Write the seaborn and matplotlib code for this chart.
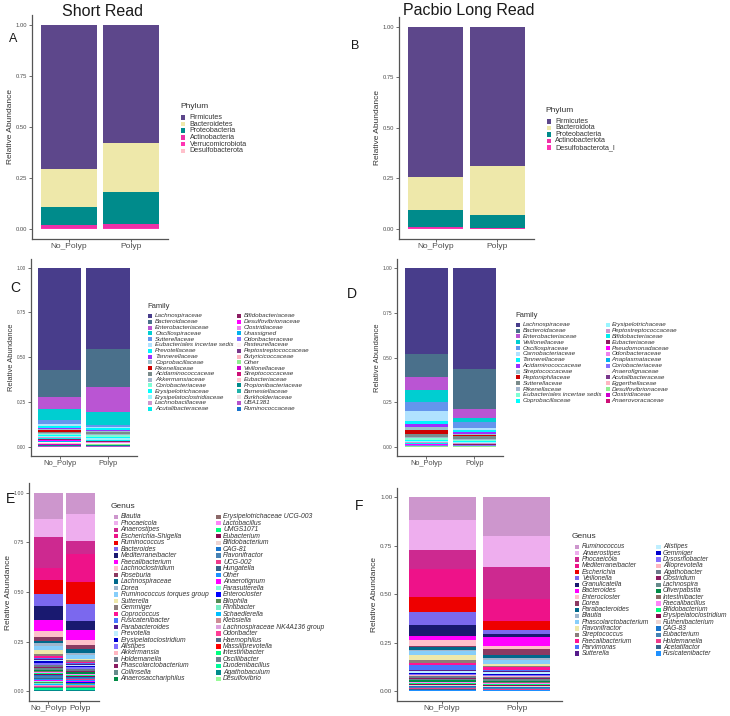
import numpy as np
import pandas as pd
import matplotlib
matplotlib.use('Agg')
import matplotlib.pyplot as plt
from matplotlib.patches import Rectangle
import seaborn as sns

groups = ['No_Polyp', 'Polyp']

# ---- Phylum (A: short read, B: PacBio) ----
phyla_sr = ['Firmicutes', 'Bacteroidetes', 'Proteobacteria', 'Actinobacteria',
            'Verrucomicrobiota', 'Desulfobacterota']
phyla_sr_colors = ['#5D478B', '#EEE8AA', '#008B8B', '#EE30A7', '#FF34B3', '#FFC0CB']
phyla_sr_nopolyp = [0.708, 0.186, 0.088, 0.014, 0.003, 0.001]
phyla_sr_polyp = [0.577, 0.240, 0.157, 0.022, 0.003, 0.001]

phyla_lr = ['Firmicutes', 'Bacteroidota', 'Proteobacteria', 'Actinobacteriota',
            'Desulfobacterota_I']
phyla_lr_colors = ['#5D478B', '#EEE8AA', '#008B8B', '#EE30A7', '#FF34B3']
phyla_lr_nopolyp = [0.745, 0.160, 0.087, 0.006, 0.002]
phyla_lr_polyp = [0.688, 0.243, 0.064, 0.004, 0.001]

# ---- Family (C, D) ----
family_palette = ['#483D8B', '#4A708B', '#BA55D3', '#00CED1', '#6495ED', '#B0E2FF',
                  '#00F5FF', '#9B30FF', '#9AC0CD', '#CD0000', '#7A8B8B', '#A2B5CD',
                  '#7FFFD4', '#00FFFF', '#98F5FF', '#CD96CD', '#00EEEE', '#8B1C62',
                  '#FF00FF', '#EE82EE', '#00B2EE', '#8470FF', '#FFF0F5', '#7A378B',
                  '#FFB6C1', '#90EE90', '#CD00CD', '#CD1076', '#FFC0CB', '#008B8B',
                  '#20B2AA', '#EEE0E5', '#B452CD', '#1874CD']

fam_sr = ['Lachnospiraceae', 'Bacteroidaceae', 'Enterobacteriaceae', 'Oscillospiraceae',
          'Sutterellaceae', 'Eubacteriales incertae sedis', 'Prevotellaceae',
          'Tannerellaceae', 'Coprobacillaceae', 'Rikenellaceae', 'Acidaminococcaceae',
          'Akkermansiaceae', 'Coriobacteriaceae', 'Erysipelotrichaceae',
          'Erysipelatoclostridiaceae', 'Lachnobacillaceae', 'Acutalibacteraceae',
          'Bifidobacteriaceae', 'Desulfovibrionaceae', 'Clostridiaceae', 'Unassigned',
          'Odoribacteraceae', 'Pasteurellaceae', 'Peptostreptococcaceae',
          'Butyricicoccaceae', 'Other', 'Veillonellaceae', 'Streptococcaceae',
          'Eubacteriaceae', 'Propionibacteriaceae', 'Barnesiellaceae',
          'Burkholderiaceae', 'UBA1381', 'Ruminococcaceae']
fam_sr_nopolyp = [0.569, 0.155, 0.063, 0.066, 0.018, 0.012, 0.010, 0.008, 0.006, 0.009,
                  0.007, 0.006, 0.005, 0.008, 0.006, 0.005, 0.006, 0.004, 0.003, 0.004,
                  0.003, 0.003, 0.002, 0.002, 0.003, 0.003, 0.003, 0.002, 0.002, 0.001,
                  0.002, 0.001, 0.002, 0.001]
fam_sr_polyp = [0.454, 0.214, 0.140, 0.071, 0.009, 0.010, 0.006, 0.007, 0.004, 0.004,
                0.012, 0.006, 0.010, 0.005, 0.008, 0.004, 0.005, 0.003, 0.002, 0.003,
                0.002, 0.002, 0.001, 0.002, 0.002, 0.002, 0.002, 0.002, 0.001, 0.001,
                0.002, 0.001, 0.002, 0.001]

fam_lr = ['Lachnospiraceae', 'Bacteroidaceae', 'Enterobacteriaceae', 'Veillonellaceae',
          'Oscillospiraceae', 'Carnobacteriaceae', 'Tannerellaceae', 'Acidaminococcaceae',
          'Streptococcaceae', 'Peptoniphilaceae', 'Sutterellaceae', 'Rikenellaceae',
          'Eubacteriales incertae sedis', 'Coprobacillaceae', 'Erysipelotrichaceae',
          'Peptostreptococcaceae', 'Bifidobacteriaceae', 'Eubacteriaceae',
          'Pseudomonadaceae', 'Odoribacteraceae', 'Anaplasmataceae', 'Coriobacteriaceae',
          'Anaerofignaceae', 'Acutalibacteraceae', 'Eggerthellaceae',
          'Desulfovibrionaceae', 'Clostridiaceae', 'Anaerovoracaceae']
fam_lr_nopolyp = [0.481, 0.125, 0.075, 0.067, 0.050, 0.056, 0.015, 0.017, 0.019, 0.024,
                  0.015, 0.006, 0.009, 0.009, 0.005, 0.004, 0.004, 0.003, 0.002, 0.002,
                  0.002, 0.002, 0.001, 0.002, 0.001, 0.002, 0.001, 0.001]
fam_lr_polyp = [0.565, 0.224, 0.047, 0.026, 0.034, 0.010, 0.009, 0.012, 0.008, 0.002,
                0.016, 0.006, 0.008, 0.007, 0.004, 0.003, 0.003, 0.002, 0.001, 0.002,
                0.001, 0.002, 0.001, 0.002, 0.001, 0.002, 0.001, 0.001]

# ---- Genus (E, F) ----
genus_palette = ['#CD96CD', '#EEAEEE', '#CD2990', '#EE1289', '#EE0000', '#7B68EE',
                 '#191970', '#FF00FF', '#FFC0CB', '#8B3A62', '#00688B', '#9FB6CD',
                 '#87CEFA', '#EEE8AA', '#8B7D7B', '#FF1493', '#4876FF', '#551A8B',
                 '#BFEFFF', '#0000CD', '#836FFF', '#FFB6C1', '#6C7B8B', '#8B1C62',
                 '#668B8B', '#008B45', '#8B6969', '#FF83FA', '#00FF7F', '#8B0A50',
                 '#EED5D2', '#1874CD', '#4682B4', '#EE3A8C', '#36648B', '#1E90FF',
                 '#FF00FF', '#7FFFD4', '#0000FF', '#548B54', '#76EEC6', '#00BFFF',
                 '#CD8C95', '#DDA0DD', '#FF3E96', '#4F6D8B', '#FF0000', '#00FF7F',
                 '#708090', '#00FA9A', '#008B8B', '#98FB98']

gen_sr = ['Blautia', 'Phocaeicola', 'Anaerostipes', 'Escherichia-Shigella', 'Ruminococcus',
          'Bacteroides', 'Mediterraneibacter', 'Faecalibacterium', 'Lachnoclostridium',
          'Roseburia', 'Lachnospiraceae', 'Dorea', 'Ruminococcus torques group',
          'Sutterella', 'Gemmiger', 'Coprococcus', 'Fusicatenibacter', 'Parabacteroides',
          'Prevotella', 'Erysipelatoclostridium', 'Alistipes', 'Akkermansia',
          'Holdemanella', 'Phascolarctobacterium', 'Collinsella', 'Anaerosacchariphilus',
          'Erysipelotrichaceae UCG-003', 'Lactobacillus', 'UMGS1071', 'Eubacterium',
          'Bifidobacterium', 'CAG-81', 'Flavonifractor', 'UCG-002', 'Hungatella', 'Other',
          'Anaerotignum', 'Parasutterella', 'Enterocloster', 'Bilophila', 'Flintibacter',
          'Schaedlerella', 'Klebsiella', 'Lachnospiraceae NK4A136 group', 'Odoribacter',
          'Haemophilus', 'Massiliprevotella', 'Intestinibacter', 'Oscillibacter',
          'Duodenibacillus', 'Agathobaculum', 'Desulfovibrio']
gen_sr_nopolyp = [0.130, 0.095, 0.152, 0.063, 0.071, 0.059, 0.073, 0.051, 0.032, 0.019,
                  0.014, 0.014, 0.020, 0.017, 0.012, 0.008, 0.006, 0.006, 0.008, 0.010,
                  0.006, 0.004, 0.010, 0.005, 0.006, 0.008, 0.005, 0.004, 0.003, 0.005,
                  0.004, 0.005, 0.006, 0.003, 0.005, 0.004, 0.003, 0.005, 0.004, 0.004,
                  0.004, 0.004, 0.003, 0.004, 0.004, 0.003, 0.003, 0.003, 0.004, 0.003,
                  0.003, 0.003]
gen_sr_polyp = [0.108, 0.134, 0.068, 0.139, 0.110, 0.085, 0.047, 0.051, 0.027, 0.020,
                0.020, 0.008, 0.020, 0.008, 0.008, 0.006, 0.005, 0.006, 0.004, 0.005,
                0.007, 0.004, 0.006, 0.005, 0.004, 0.006, 0.004, 0.004, 0.003, 0.004,
                0.003, 0.004, 0.005, 0.003, 0.004, 0.003, 0.003, 0.004, 0.003, 0.003,
                0.004, 0.003, 0.003, 0.004, 0.003, 0.003, 0.003, 0.003, 0.004, 0.003,
                0.003, 0.003]

gen_lr = ['Ruminococcus', 'Anaerostipes', 'Phocaeicola', 'Mediterraneibacter', 'Escherichia',
          'Veillonella', 'Granulicatella', 'Bacteroides', 'Enterocloster', 'Dorea',
          'Parabacteroides', 'Blautia', 'Phascolarctobacterium', 'Flavonifractor',
          'Streptococcus', 'Faecalibacterium', 'Parvimonas', 'Sutterella', 'Alistipes',
          'Gemmiger', 'Dysosmobacter', 'Alloprevotella', 'Agathobacter', 'Clostridium',
          'Lachnospira', 'Oliverpabstia', 'Intestinibacter', 'Faecalibacillus',
          'Bifidobacterium', 'Erysipelatoclostridium', 'Ruthenibacterium', 'CAG-83',
          'Eubacterium', 'Holdemanella', 'Acetatifactor', 'Fusicatenibacter']
gen_lr_nopolyp = [0.117, 0.153, 0.098, 0.148, 0.074, 0.067, 0.057, 0.024, 0.029, 0.005,
                  0.017, 0.006, 0.019, 0.024, 0.017, 0.009, 0.026, 0.006, 0.009, 0.008,
                  0.005, 0.006, 0.008, 0.006, 0.007, 0.006, 0.005, 0.004, 0.005, 0.006,
                  0.005, 0.005, 0.005, 0.006, 0.004, 0.004]
gen_lr_polyp = [0.200, 0.160, 0.165, 0.114, 0.048, 0.021, 0.012, 0.046, 0.019, 0.031,
                0.015, 0.009, 0.022, 0.007, 0.005, 0.017, 0.005, 0.006, 0.008, 0.007,
                0.005, 0.005, 0.007, 0.006, 0.006, 0.008, 0.005, 0.004, 0.005, 0.005,
                0.005, 0.005, 0.005, 0.005, 0.004, 0.003]

W, H = 730, 716
sns.set_theme(style='ticks')
plt.rcParams['font.family'] = ['Liberation Sans', 'DejaVu Sans']
fig = plt.figure(figsize=(W / 100, H / 100), dpi=100)
fig.patch.set_facecolor('white')


def px_axes(l, t, r, b):
    return fig.add_axes([l / W, 1 - b / H, (r - l) / W, (b - t) / H])


def ftext(x, y, s, **kw):
    fig.text(x / W, 1 - y / H, s, **kw)


def stacked(ax, taxa, colors, nopolyp, polyp, ytick_size, xtick_size, ylab_size, ylab_pad):
    df = pd.DataFrame({'group': [groups[0]] * len(taxa) + [groups[1]] * len(taxa),
                       'taxon': list(taxa) * 2,
                       'value': list(nopolyp) + list(polyp)})
    sns.histplot(data=df, x='group', hue='taxon', weights='value', hue_order=taxa,
                 palette=dict(zip(taxa, colors)), multiple='stack', discrete=True,
                 shrink=0.9, alpha=1, linewidth=0, edgecolor='none', legend=False, ax=ax)
    ax.set_xlim(-0.6, 1.6)
    ax.set_ylim(-0.05, 1.05)
    ax.set_xticks([0, 1])
    ax.set_xticklabels(groups)
    ax.set_yticks([0, 0.25, 0.5, 0.75, 1.0])
    ax.set_yticklabels(['0.00', '0.25', '0.50', '0.75', '1.00'])
    ax.set_xlabel('')
    ax.set_ylabel('Relative Abundance', fontsize=ylab_size, color='#333333', labelpad=ylab_pad)
    for s in ['top', 'right']:
        ax.spines[s].set_visible(False)
    for s in ['left', 'bottom']:
        ax.spines[s].set_color('#555555')
        ax.spines[s].set_linewidth(0.9)
    ax.tick_params(axis='y', labelsize=ytick_size, labelcolor='#4D4D4D', length=2,
                   width=0.6, color='#555555', pad=1.5)
    ax.tick_params(axis='x', labelsize=xtick_size, labelcolor='#4D4D4D', length=2,
                   width=0.6, color='#555555', pad=1)
    ax.set_facecolor('white')


def key_column(labels, colors, x_key, x_text, y0, pitch, key_px, size, italic=True):
    # ggplot-style legend keys: small squares next to the labels
    for i, (lab, c) in enumerate(zip(labels, colors)):
        y = y0 + i * pitch
        fig.add_artist(Rectangle((x_key / W, 1 - (y + key_px / 2) / H), key_px / W, key_px / H,
                                 transform=fig.transFigure, facecolor=c, edgecolor='none'))
        ftext(x_text, y, lab, fontsize=size, style='italic' if italic else 'normal',
              ha='left', va='center', color='#333333')


def two_columns(labels, colors, col1, col2, y0, pitch, key_px, size):
    half = (len(labels) + 1) // 2
    key_column(labels[:half], colors[:half], col1[0], col1[1], y0, pitch, key_px, size)
    key_column(labels[half:], colors[half:], col2[0], col2[1], y0, pitch, key_px, size)


# A
axA = px_axes(32, 15, 168, 239)
stacked(axA, phyla_sr, phyla_sr_colors, phyla_sr_nopolyp, phyla_sr_polyp, 4.2, 6, 6, 1.5)
ftext(102, 12, 'Short Read', fontsize=11.5, ha='center', va='center', color='#1a1a1a')
ftext(13.5, 39, 'A', fontsize=9, ha='center', va='center', color='#1a1a1a')
ftext(180, 106, 'Phylum', fontsize=6, ha='left', va='center', color='#333333')
key_column(phyla_sr, phyla_sr_colors, 181, 189.7, 117.3, 6.7, 4.5, 5.1, italic=False)

# B
axB = px_axes(399, 16.6, 534, 239)
stacked(axB, phyla_lr, phyla_lr_colors, phyla_lr_nopolyp, phyla_lr_polyp, 4.2, 6, 6, 1.5)
ftext(469, 10, 'Pacbio Long Read', fontsize=11.5, ha='center', va='center', color='#1a1a1a')
ftext(355, 46, 'B', fontsize=9, ha='center', va='center', color='#1a1a1a')
ftext(545.7, 110, 'Phylum', fontsize=6, ha='left', va='center', color='#333333')
key_column(phyla_lr, phyla_lr_colors, 546.7, 555.3, 121.3, 6.5, 4.5, 5.1, italic=False)

# C
axC = px_axes(30.7, 258.7, 137, 455.7)
stacked(axC, fam_sr, family_palette[:len(fam_sr)], fam_sr_nopolyp, fam_sr_polyp, 3.4, 5.5, 5.4, 1.5)
ftext(15, 288, 'C', fontsize=10, ha='center', va='center', color='#1a1a1a')
ftext(147, 307, 'Family', fontsize=5.5, ha='left', va='center', color='#333333')
two_columns(fam_sr, family_palette[:len(fam_sr)], (148, 155.3), (237.3, 243.7),
            316, 5.79, 4, 4.5)

# D
axD = px_axes(397.3, 259.4, 503, 456)
stacked(axD, fam_lr, family_palette[:len(fam_lr)], fam_lr_nopolyp, fam_lr_polyp, 3.5, 5.3, 5.5, 1.5)
ftext(352, 294, 'D', fontsize=10, ha='center', va='center', color='#1a1a1a')
ftext(515, 316, 'Family', fontsize=5.5, ha='left', va='center', color='#333333')
two_columns(fam_lr, family_palette[:len(fam_lr)], (516, 522.7), (605.7, 611.7),
            324.7, 5.85, 4, 4.5)

# E
axE = px_axes(29.3, 482.8, 99.3, 701.2)
stacked(axE, gen_sr, genus_palette[:len(gen_sr)], gen_sr_nopolyp, gen_sr_polyp, 3.8, 6, 6, 1.5)
ftext(10.5, 499, 'E', fontsize=10, ha='center', va='center', color='#1a1a1a')
ftext(111, 506.7, 'Genus', fontsize=6, ha='left', va='center', color='#333333')
two_columns(gen_sr, genus_palette[:len(gen_sr)], (113.7, 120.7), (216.3, 223),
            516.7, 6.49, 4.3, 4.9)

# F
axF = px_axes(397.3, 487.6, 561.7, 700.7)
stacked(axF, gen_lr, genus_palette[:len(gen_lr)], gen_lr_nopolyp, gen_lr_polyp, 4.5, 6, 6, 1.5)
ftext(359, 505.5, 'F', fontsize=10, ha='center', va='center', color='#1a1a1a')
ftext(572, 536.7, 'Genus', fontsize=6, ha='left', va='center', color='#333333')
two_columns(gen_lr, genus_palette[:len(gen_lr)], (574.7, 582), (656.3, 663),
            547, 6.27, 4.2, 4.8)

fig.savefig('out.png', dpi=100, facecolor='white')
